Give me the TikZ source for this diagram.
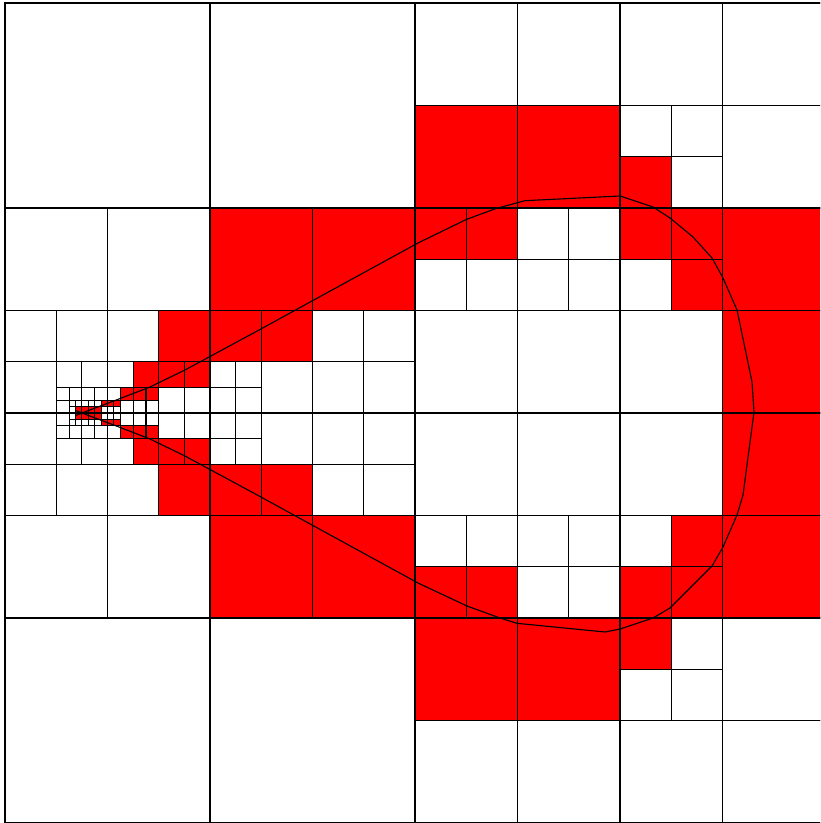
\documentclass[tikz,border=0pt]{standalone}
\begin{document}
\begin{tikzpicture}[x=0.1mm,y=-0.1mm,
  qw/.style={draw=black,line width=0.32pt,fill=white},
  qr/.style={draw=black,line width=0.32pt,fill=red},
  bigline/.style={draw=black,line width=0.62pt},
  curveline/.style={draw=black,line width=0.32pt,line join=round}]
\useasboundingbox (0,0) rectangle (820,823);
\clip (0,0) rectangle (820,823);
\newcommand\qc[4]{%
  \path[#4] (#1,#2) rectangle ++(#3,#3);
  \path[#4] (#1,{8-#2-#3}) rectangle ++(#3,#3);}
\begin{scope}[shift={(5,3)},x=10.25mm,y=-10.25mm]
\qc{0}{0}{2}{qw}
\qc{2}{0}{2}{qw}
\qc{4}{0}{1}{qw} \qc{5}{0}{1}{qw} \qc{4}{1}{1}{qr} \qc{5}{1}{1}{qr}
\qc{6}{0}{1}{qw} \qc{7}{0}{1}{qw} \qc{6}{1}{0.5}{qw} \qc{6.5}{1}{0.5}{qw}
\qc{6}{1.5}{0.5}{qr} \qc{6.5}{1.5}{0.5}{qw} \qc{7}{1}{1}{qw}
\qc{0}{2}{1}{qw} \qc{1}{2}{1}{qw}
\qc{0}{3}{0.5}{qw} \qc{0.5}{3}{0.5}{qw} \qc{0}{3.5}{0.5}{qw}
\qc{0.5}{3.5}{0.25}{qw} \qc{0.75}{3.5}{0.25}{qw}
\qc{0.5}{3.75}{0.125}{qw} \qc{0.625}{3.75}{0.125}{qw} \qc{0.5}{3.875}{0.125}{qw}
\qc{0.625}{3.875}{0.0625}{qw} \qc{0.6875}{3.875}{0.0625}{qw}
\qc{0.625}{3.9375}{0.0625}{qw} \qc{0.6875}{3.9375}{0.0625}{qr}
\qc{0.75}{3.75}{0.125}{qw} \qc{0.875}{3.75}{0.125}{qw}
\qc{0.75}{3.875}{0.0625}{qw} \qc{0.8125}{3.875}{0.0625}{qw}
\qc{0.75}{3.9375}{0.0625}{qr} \qc{0.8125}{3.9375}{0.0625}{qr}
\qc{0.875}{3.875}{0.0625}{qw} \qc{0.9375}{3.875}{0.0625}{qr}
\qc{0.875}{3.9375}{0.0625}{qr} \qc{0.9375}{3.9375}{0.0625}{qw}
\qc{1}{3}{0.5}{qw} \qc{1.5}{3}{0.5}{qr}
\qc{1}{3.5}{0.25}{qw} \qc{1.25}{3.5}{0.25}{qr}
\qc{1}{3.75}{0.125}{qw} \qc{1.125}{3.75}{0.125}{qr}
\qc{1}{3.875}{0.0625}{qr} \qc{1.0625}{3.875}{0.0625}{qr}
\qc{1}{3.9375}{0.0625}{qw} \qc{1.0625}{3.9375}{0.0625}{qw}
\qc{1.125}{3.875}{0.125}{qw}
\qc{1.25}{3.75}{0.125}{qr} \qc{1.375}{3.75}{0.125}{qr}
\qc{1.25}{3.875}{0.125}{qw} \qc{1.375}{3.875}{0.125}{qw}
\qc{1.5}{3.5}{0.25}{qr} \qc{1.75}{3.5}{0.25}{qr}
\qc{1.5}{3.75}{0.25}{qw} \qc{1.75}{3.75}{0.25}{qw}
\qc{2}{2}{1}{qr} \qc{3}{2}{1}{qr}
\qc{2}{3}{0.5}{qr} \qc{2.5}{3}{0.5}{qr}
\qc{2}{3.5}{0.25}{qw} \qc{2.25}{3.5}{0.25}{qw} \qc{2}{3.75}{0.25}{qw} \qc{2.25}{3.75}{0.25}{qw}
\qc{2.5}{3.5}{0.5}{qw}
\qc{3}{3}{0.5}{qw} \qc{3.5}{3}{0.5}{qw} \qc{3}{3.5}{0.5}{qw} \qc{3.5}{3.5}{0.5}{qw}
\qc{4}{2}{0.5}{qr} \qc{4.5}{2}{0.5}{qr} \qc{4}{2.5}{0.5}{qw} \qc{4.5}{2.5}{0.5}{qw}
\qc{5}{2}{0.5}{qw} \qc{5.5}{2}{0.5}{qw} \qc{5}{2.5}{0.5}{qw} \qc{5.5}{2.5}{0.5}{qw}
\qc{4}{3}{1}{qw} \qc{5}{3}{1}{qw}
\qc{6}{2}{0.5}{qr} \qc{6.5}{2}{0.5}{qr} \qc{6}{2.5}{0.5}{qw} \qc{6.5}{2.5}{0.5}{qr}
\qc{7}{2}{1}{qr} \qc{6}{3}{1}{qw} \qc{7}{3}{1}{qr}
\foreach \i in {0,2,4,6,8}{
  \path[bigline] (\i,0) -- (\i,8);
  \path[bigline] (0,\i) -- (8,\i);}
\end{scope}
\path[curveline] plot coordinates {
 (76,415.3) (82,413) (120,398.6) (150,387) (185,370) (260,329.5) (312,301)
 (418,243) (466.7,219.3) (496.7,208.3) (525,200.7) (620,196) (653,207)
 (670,218) (693,237) (712,258) (723,278) (737,310) (752,382) (754,412)
 (743,495) (737,515) (723,547) (712,566) (670,608) (653,618) (620,629)
 (605,632) (517,623.3) (500,618) (467,606) (418,583) (312,525) (260,496.5)
 (185,456) (150,439) (120,427.4) (82,413) (76,410.7)};
\end{tikzpicture}
\end{document}
